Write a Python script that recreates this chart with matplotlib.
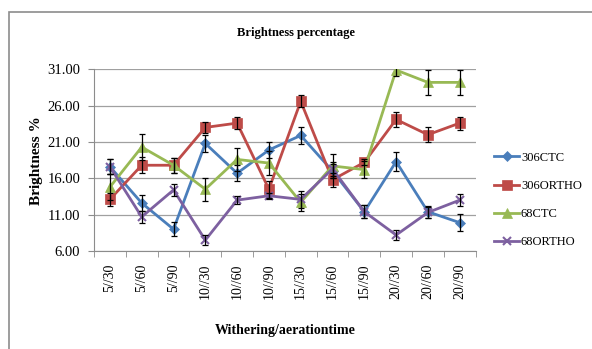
import numpy as np
import matplotlib.pyplot as plt
from matplotlib.patches import Rectangle

# withering/aeration time categories
labels = ["5//30", "5//60", "5//90", "10//30", "10//60", "10//90",
          "15//30", "15//60", "15//90", "20//30", "20//60", "20//90"]

# brightness % per clone/treatment
ctc306 = [17.6, 12.6, 9.0, 20.8, 16.7, 19.9, 21.9, 17.0, 11.4, 18.3, 11.4, 9.9]
ortho306 = [13.1, 17.8, 17.8, 23.0, 23.6, 14.5, 26.6, 15.8, 18.2, 24.1, 22.0, 23.6]
ctc68 = [14.8, 20.3, 17.8, 14.5, 18.6, 18.1, 12.7, 17.7, 17.2, 30.9, 29.2, 29.2]
ortho68 = [17.6, 10.7, 14.4, 7.5, 13.0, 13.6, 13.1, 17.3, 11.4, 8.2, 11.3, 13.0]

# standard errors
ctc306_err = [1.0, 1.1, 1.0, 1.2, 1.1, 1.1, 1.2, 1.0, 0.9, 1.3, 0.8, 1.2]
ortho306_err = [0.9, 1.1, 1.0, 0.8, 0.8, 1.2, 0.8, 1.0, 0.4, 1.0, 1.0, 0.9]
ctc68_err = [1.8, 1.8, 1.0, 1.6, 1.6, 1.6, 1.2, 1.6, 1.2, 0.8, 1.7, 1.7]
ortho68_err = [1.0, 0.8, 0.8, 0.7, 0.6, 0.4, 1.2, 1.0, 0.9, 0.7, 0.8, 0.8]

series = [
    ("306CTC", ctc306, ctc306_err, "#4A7EBB", "D", 5),
    ("306ORTHO", ortho306, ortho306_err, "#BE4B48", "s", 7),
    ("68CTC", ctc68, ctc68_err, "#98B954", "^", 7),
    ("68ORTHO", ortho68, ortho68_err, "#7D60A0", "x", 6),
]

serif = ["Liberation Serif", "DejaVu Serif"]

fig = plt.figure(figsize=(5.92, 3.49), dpi=100)
ax = fig.add_axes([0.1588, 0.2808, 0.6446, 0.5206])

# outer chart border
fig.patches.append(Rectangle((9 / 592, -0.1), 1.2, 1 - 12 / 349 + 0.1,
                             transform=fig.transFigure, fill=False,
                             edgecolor="#8C8C8C", linewidth=1.2))

x = np.arange(len(labels))
handles = []
for name, vals, err, col, mk, ms in series:
    line, = ax.plot(x, vals, color=col, lw=2.0, marker=mk, markersize=ms,
                    markeredgecolor=col, markeredgewidth=1.5 if mk == "x" else 0.5,
                    label=name, zorder=3)
    ax.errorbar(x, vals, yerr=err, fmt="none", ecolor="black", elinewidth=0.9,
                capsize=2.5, capthick=0.9, zorder=4)
    handles.append(line)

ax.set_xlim(-0.5, len(labels) - 0.5)
ax.set_ylim(6, 31)
ax.set_yticks(np.arange(6, 32, 5))
ax.set_yticklabels([f"{v:.2f}" for v in np.arange(6, 32, 5)], fontfamily=serif, fontsize=10.5)
ax.set_xticks(x)
ax.set_xticklabels(labels, rotation=90, fontfamily=serif, fontsize=10)
ax.set_xticks(np.arange(-0.5, len(labels), 1), minor=True)
ax.tick_params(axis="x", which="major", length=0, pad=9)
ax.tick_params(axis="x", which="minor", length=4, color="#8C8C8C")
ax.tick_params(axis="y", length=4, color="#8C8C8C", pad=6)

ax.grid(axis="y", color="#A0A0A0", linewidth=0.9)
ax.set_axisbelow(True)
for s in ["top", "right"]:
    ax.spines[s].set_visible(False)
for s in ["left", "bottom"]:
    ax.spines[s].set_color("#8C8C8C")

ax.set_ylabel("Brightness %", fontfamily=serif, fontweight="bold", fontsize=11, labelpad=3)
ax.set_xlabel("Withering/aerationtime", fontfamily=serif, fontweight="bold", fontsize=10, labelpad=18)
fig.text(0.5, 1 - 33 / 349, "Brightness percentage", ha="center", va="center",
         fontfamily=serif, fontweight="bold", fontsize=9)

fig.legend(handles=handles, loc="center left", bbox_to_anchor=(494 / 592, 1 - 200 / 349),
           frameon=False, prop={"family": serif, "size": 9}, handlelength=2.0,
           handletextpad=0.15, labelspacing=1.3, borderaxespad=0, borderpad=0)

fig.savefig("out.png", dpi=100)
